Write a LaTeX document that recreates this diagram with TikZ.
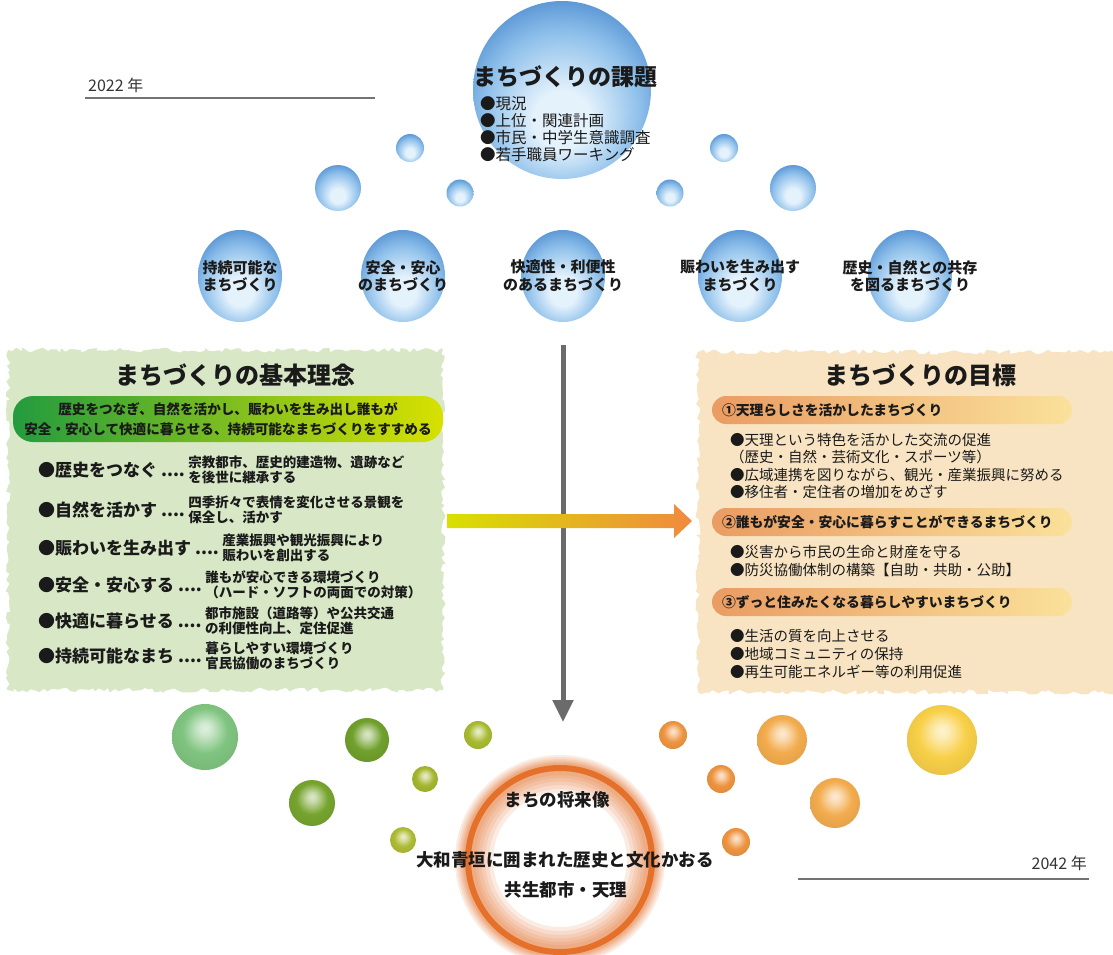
\documentclass[tikz,border=0pt]{standalone}
\usepackage{fontspec}
\setmainfont{Noto Sans CJK JP}
\usetikzlibrary{positioning,calc,arrows.meta,shapes.geometric,decorations.pathmorphing}

\definecolor{bubblerim}{HTML}{4585CC}
\definecolor{bubblemid}{HTML}{8DBFEA}
\definecolor{bubblelight}{HTML}{E4F2FC}
\definecolor{ideafill}{HTML}{D8E8C6}
\definecolor{goalfill}{HTML}{F8E4C2}
\definecolor{ideadark}{HTML}{239B3E}
\definecolor{idealime}{HTML}{D7E100}
\definecolor{goalorange}{HTML}{EA9C62}
\definecolor{goalyellow}{HTML}{FBE08A}
\definecolor{arrowlime}{HTML}{D8E000}
\definecolor{arroworange}{HTML}{F08A3E}
\definecolor{flowgray}{HTML}{6B6B6B}
\definecolor{ringorange}{HTML}{E5702A}
\definecolor{ink}{HTML}{1A1A1A}
\definecolor{ballbase}{HTML}{888888}

% blue bubbles: light at the bottom, darker rim on top
\pgfdeclareradialshading{bubble}{\pgfpoint{0bp}{-10bp}}{%
  color(0bp)=(bubblelight); color(8bp)=(bubblelight);
  color(22bp)=(bubblemid); color(33bp)=(bubblerim); color(50bp)=(bubblerim)}
% coloured balls with a highlight near the top
\pgfdeclareradialshading[ballbase]{glossy}{\pgfpoint{0bp}{7bp}}{%
  color(0bp)=(ballbase!25!white); color(5bp)=(ballbase!40!white);
  color(17bp)=(ballbase); color(32bp)=(ballbase!92!black); color(50bp)=(ballbase!92!black)}

\tikzset{
  bubbledot/.style={circle, inner sep=0, shade, shading=bubble},
  aim/.style={ellipse, inner sep=0, minimum width=84, minimum height=92, shade, shading=bubble},
  aimtext/.style={align=center, text=ink, font=\fontsize{15}{17.5}\selectfont\bfseries},
  glossball/.style={circle, inner sep=0, shade, shading=glossy, /utils/exec={\colorlet{ballbase}{#1}}},
  heading/.style={text=ink, font=\fontsize{24}{28}\selectfont\bfseries},
  ideabar/.style={rounded corners=20, minimum width=430, minimum height=46, align=center,
    left color=ideadark, right color=idealime, text=ink, font=\fontsize{13.6}{19.5}\selectfont\bfseries},
  idealabel/.style={anchor=west, inner sep=0, text=ink, font=\fontsize{17}{20}\selectfont\bfseries},
  ideadesc/.style={inner sep=0, align=left, text=ink, font=\fontsize{13.5}{15.5}\selectfont\bfseries},
  goalbar/.style={rounded corners=14, minimum height=28, text width=340, inner xsep=10, align=left,
    left color=goalorange, right color=goalyellow!70!goalfill, text=ink,
    font=\fontsize{13.8}{16}\selectfont\bfseries},
  goalitem/.style={anchor=west, inner sep=0, text=ink, font=\fontsize{14.5}{17}\selectfont},
  futuretext/.style={text=ink, font=\fontsize{17.5}{20}\selectfont\bfseries},
  yeartext/.style={inner sep=0, text=black!80, font=\fontsize{16}{18}\selectfont},
  yearline/.style={draw=black!55, line width=2.5},
  glow/.style={draw=ringorange, opacity=0.13},
  panel/.style={decorate, decoration={random steps, segment length=4pt, amplitude=2.5pt}},
  flowarrow/.style={draw=flowgray, line width=5, -{Triangle[length=22,width=20]}}
}

\begin{document}
\begin{tikzpicture}[x=1pt,y=-1pt]
  \fill[white] (0,0) rectangle (1113,954);
  \useasboundingbox (0,0) rectangle (1113,954);

  % years
  \node[yeartext, anchor=west] (startyear) at (88,85) {2022 年};
  \coordinate (startleft) at (85,98);
  \coordinate (startright) at (375,98);
  \draw[yearline] (startleft) -- (startright);
  \node[yeartext, anchor=east] (endyear) at (1087,863) {2042 年};
  \coordinate (endleft) at (798,879);
  \coordinate (endright) at (1089,879);
  \draw[yearline] (endleft) -- (endright);

  % issues
  \node[bubbledot, minimum size=178] (issues) at (562,90) {};
  \node[heading, font=\fontsize{23}{26}\selectfont\bfseries] (issuehead) at (565,77) {まちづくりの課題};
  \node[anchor=north west, inner sep=0, align=left, text=ink, font=\fontsize{15.5}{17.2}\selectfont] (issuelist)
    at (480,96) {●現況\\●上位・関連計画\\●市民・中学生意識調査\\●若手職員ワーキング};

  \node[bubbledot, minimum size=28] (dotA) at (410,148) {};
  \node[bubbledot, minimum size=46] (dotB) at (338,188) {};
  \node[bubbledot, minimum size=27] (dotC) at (460,193) {};
  \node[bubbledot, minimum size=28] (dotD) at (724,148) {};
  \node[bubbledot, minimum size=27] (dotE) at (670,193) {};
  \node[bubbledot, minimum size=46] (dotF) at (793,188) {};

  % five aims
  \node[aim] (sustain) at (240,276) {};
  \node[aim] (safety) at (403,276) {};
  \node[aim] (comfort) at (563,276) {};
  \node[aim] (bustle) at (740,276) {};
  \node[aim] (nature) at (910,276) {};
  \node[aimtext] (sustaintext) at (sustain) {持続可能な\\まちづくり};
  \node[aimtext] (safetytext) at (safety) {安全・安心\\のまちづくり};
  \node[aimtext] (comforttext) at (comfort) {快適性・利便性\\のあるまちづくり};
  \node[aimtext] (bustletext) at (bustle) {賑わいを生み出す\\まちづくり};
  \node[aimtext] (naturetext) at (nature) {歴史・自然との共存\\を図るまちづくり};

  % basic idea
  \fill[ideafill, panel] (8,350) rectangle (443,690);
  \node[heading] (ideahead) at (235,375) {まちづくりの基本理念};
  \node[ideabar] (ideabar) at (228,419)
    {歴史をつなぎ、自然を活かし、賑わいを生み出し誰もが\\安全・安心して快適に暮らせる、持続可能なまちづくりをすすめる};

  \node[idealabel] (history) at (38,470) {●歴史をつなぐ ....};
  \node[ideadesc, right=3pt of history] (historynote) {宗教都市、歴史的建造物、遺跡など\\を後世に継承する};
  \node[idealabel] (naturelive) at (38,510) {●自然を活かす ....};
  \node[ideadesc, right=3pt of naturelive] (naturenote) {四季折々で表情を変化させる景観を\\保全し、活かす};
  \node[idealabel] (bustlemake) at (38,548) {●賑わいを生み出す ....};
  \node[ideadesc, right=3pt of bustlemake] (bustlenote) {産業振興や観光振興により\\賑わいを創出する};
  \node[idealabel] (safelive) at (38,585) {●安全・安心する ....};
  \node[ideadesc, right=3pt of safelive] (safenote) {誰もが安心できる環境づくり\\（ハード・ソフトの両面での対策）};
  \node[idealabel] (comfortlive) at (38,621) {●快適に暮らせる ....};
  \node[ideadesc, right=3pt of comfortlive] (comfortnote) {都市施設（道路等）や公共交通\\の利便性向上、定住促進};
  \node[idealabel] (sustaintown) at (38,656) {●持続可能なまち ....};
  \node[ideadesc, right=3pt of sustaintown] (sustainnote) {暮らしやすい環境づくり\\官民協働のまちづくり};

  % goals
  \fill[goalfill, panel] (698,352) rectangle (1120,692);
  \node[heading] (goalhead) at (920,375) {まちづくりの目標};

  \node[goalbar] (goalA) at (892,410) {①天理らしさを活かしたまちづくり};
  \node[goalitem] (goalAone) at (730,440) {●天理という特色を活かした交流の促進};
  \node[goalitem] (goalAtwo) at (730,457) {（歴史・自然・芸術文化・スポーツ等）};
  \node[goalitem] (goalAthree) at (730,475) {●広域連携を図りながら、観光・産業振興に努める};
  \node[goalitem] (goalAfour) at (730,492) {●移住者・定住者の増加をめざす};

  \node[goalbar] (goalB) at (892,522) {②誰もが安全・安心に暮らすことができるまちづくり};
  \node[goalitem] (goalBone) at (730,552) {●災害から市民の生命と財産を守る};
  \node[goalitem] (goalBtwo) at (730,570) {●防災協働体制の構築【自助・共助・公助】};

  \node[goalbar] (goalC) at (892,602) {③ずっと住みたくなる暮らしやすいまちづくり};
  \node[goalitem] (goalCone) at (730,636) {●生活の質を向上させる};
  \node[goalitem] (goalCtwo) at (730,654) {●地域コミュニティの保持};
  \node[goalitem] (goalCthree) at (730,672) {●再生可能エネルギー等の利用促進};

  % flow to the future
  \coordinate (flowtop) at (563,345);
  \coordinate (flowend) at (563,722);
  \draw[flowarrow] (flowtop) -- (flowend);

  % idea to goals
  \coordinate (gostart) at (447,521);
  \coordinate (goend) at (692,521);
  \shade[left color=arrowlime, right color=arroworange]
    ($(gostart)+(0,-7)$) -- ($(goend)+(-18,-7)$) -- ($(goend)+(-18,-17)$) -- (goend)
    -- ($(goend)+(-18,17)$) -- ($(goend)+(-18,7)$) -- ($(gostart)+(0,7)$) -- cycle;

  % balls
  \node[glossball={rgb,255:red,128;green,196;blue,128}, minimum size=66] (ballA) at (205,737) {};
  \node[glossball={rgb,255:red,112;green,160;blue,44}, minimum size=44] (ballB) at (367,740) {};
  \node[glossball={rgb,255:red,168;green,186;blue,48}, minimum size=28] (ballC) at (478,735) {};
  \node[glossball={rgb,255:red,118;green,164;blue,46}, minimum size=46] (ballD) at (312,803) {};
  \node[glossball={rgb,255:red,163;green,182;blue,46}, minimum size=26] (ballE) at (425,779) {};
  \node[glossball={rgb,255:red,174;green,187;blue,53}, minimum size=26] (ballF) at (403,840) {};
  \node[glossball={rgb,255:red,238;green,148;blue,64}, minimum size=28] (ballG) at (673,735) {};
  \node[glossball={rgb,255:red,243;green,172;blue,78}, minimum size=50] (ballH) at (782,740) {};
  \node[glossball={rgb,255:red,248;green,208;blue,72}, minimum size=70] (ballI) at (942,740) {};
  \node[glossball={rgb,255:red,238;green,148;blue,64}, minimum size=28] (ballJ) at (721,779) {};
  \node[glossball={rgb,255:red,243;green,172;blue,78}, minimum size=50] (ballK) at (835,803) {};
  \node[glossball={rgb,255:red,238;green,148;blue,64}, minimum size=28] (ballL) at (736,842) {};

  % future image, ring with a soft glow
  \node[circle, inner sep=0, minimum size=184] (future) at (560,860) {};
  \draw[glow, line width=38] (future.center) circle (86);
  \draw[glow, line width=32] (future.center) circle (87);
  \draw[glow, line width=26] (future.center) circle (88);
  \draw[glow, line width=21] (future.center) circle (89);
  \draw[glow, line width=16] (future.center) circle (90);
  \draw[glow, line width=12] (future.center) circle (91);
  \draw[ringorange, line width=6] (future.center) circle (92);
  \node[futuretext] (futurehead) at (557,800) {まちの将来像};
  \node[futuretext] (futurecity) at (565,860) {大和青垣に囲まれた歴史と文化かおる};
  \node[futuretext] (futurename) at (566,890) {共生都市・天理};
\end{tikzpicture}
\end{document}
